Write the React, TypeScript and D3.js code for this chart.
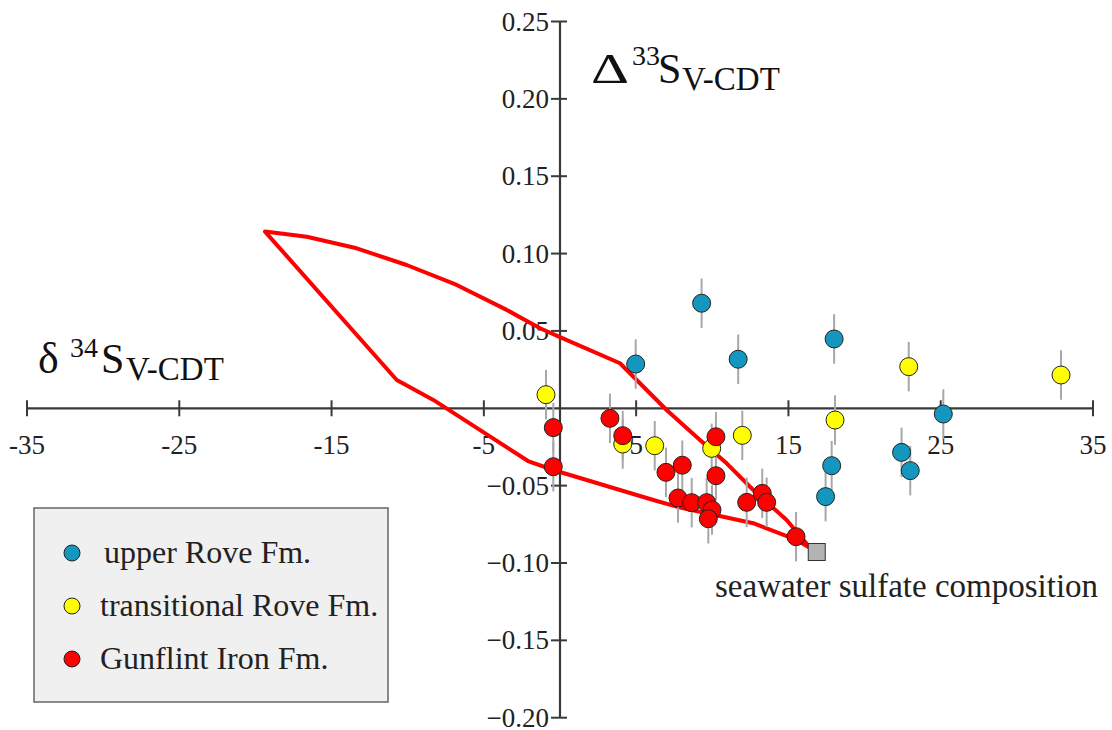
import React from "react";
import * as d3 from "d3";

// δ34S (‰) and Δ33S (‰) values for each formation
const upperRoveX = [4.97, 9.3, 11.7, 18.0, 25.17, 22.43, 23.0, 17.84, 17.44];
const upperRoveY = [0.0286, 0.0679, 0.0317, 0.0448, -0.0037, -0.0285, -0.0403, -0.0371, -0.0571];

const transRoveX = [-0.92, 4.12, 6.22, 9.96, 11.97, 18.06, 22.9, 32.9];
const transRoveY = [0.0088, -0.0231, -0.0242, -0.0259, -0.0175, -0.0076, 0.0269, 0.0215];

const gunflintX = [-0.44, -0.44, 3.28, 4.12, 6.96, 8.03, 7.75, 8.65, 9.63, 9.98, 9.74, 10.24, 10.24, 12.26, 13.28, 13.57, 15.5];
const gunflintY = [-0.0125, -0.0378, -0.0065, -0.0177, -0.0414, -0.0368, -0.058, -0.061, -0.061, -0.0657, -0.0714, -0.0436, -0.0184, -0.0608, -0.055, -0.0608, -0.083];

// analytical uncertainty on Δ33S (±)
const errD33 = 0.016;

// seawater sulfate end-member
const seawaterX = 16.86;
const seawaterY = -0.0929;

// model field boundaries, from the apex to the seawater end-member
const upperEdgeX = [-19.37, -16.63, -13.35, -10.07, -6.78, -3.5, -1.31, 0, 3.94, 7.0, 9.19, 10.94, 12.69, 14.88, 16.45];
const upperEdgeY = [0.1142, 0.1109, 0.1034, 0.0926, 0.0797, 0.0636, 0.0517, 0.046, 0.0291, -0.0011, -0.0205, -0.0356, -0.0528, -0.0722, -0.0905];
const lowerEdgeX = [-19.37, -10.72, -8.32, -2.1, -0.44, 6.13, 7.66, 12.69, 15.54, 16.45];
const lowerEdgeY = [0.1142, 0.0183, 0.0054, -0.0341, -0.0399, -0.0593, -0.0636, -0.0743, -0.0851, -0.0905];

const xTicks = [-35, -25, -15, -5, 5, 15, 25, 35];
const yTicks = [0.25, 0.2, 0.15, 0.1, 0.05, -0.05, -0.1, -0.15, -0.2];

const seriesNames = ["upper Rove Fm.", "transitional Rove Fm.", "Gunflint Iron Fm."];
const seriesColors = ["#1497bf", "#ffff00", "#ff0000"];

const W = 1112;
const H = 730;
const FONT = "'Liberation Serif', 'Times New Roman', serif";

export default function App() {
  const x = d3.scaleLinear().domain([-35, 35]).range([27, 1093]);
  const y = d3.scaleLinear().domain([-0.2, 0.25]).range([717.7, 21.5]);
  const x0 = x(0);
  const y0 = y(0);

  const series = [
    { xs: upperRoveX, ys: upperRoveY },
    { xs: transRoveX, ys: transRoveY },
    { xs: gunflintX, ys: gunflintY },
  ];

  const fieldPts: [number, number][] = [
    ...upperEdgeX.map((v, i) => [v, upperEdgeY[i]] as [number, number]),
    ...lowerEdgeX
      .map((v, i) => [v, lowerEdgeY[i]] as [number, number])
      .reverse(),
  ];
  const fieldPath = d3
    .line<[number, number]>()
    .x((d) => x(d[0]))
    .y((d) => y(d[1]))
    .curve(d3.curveLinearClosed)(fieldPts) as string;

  const fmt = d3.format(".2f");
  const axisColor = "#3a3a3a";

  return (
    <svg
      width={W}
      height={H}
      style={{ position: "absolute", left: 0, top: 0, background: "#fff" }}
      fontFamily={FONT}
    >
      {/* axes */}
      <line x1={x(-35)} x2={x(35)} y1={y0} y2={y0} stroke={axisColor} strokeWidth={2.2} />
      <line x1={x0} x2={x0} y1={y(0.25)} y2={y(-0.2)} stroke={axisColor} strokeWidth={2.2} />
      {xTicks.map((t) => (
        <g key={"xt" + t}>
          <line x1={x(t)} x2={x(t)} y1={y0 - 8} y2={y0 + 8} stroke={axisColor} strokeWidth={2} />
          <text x={x(t)} y={y0 + 46} textAnchor="middle" fontSize={27} fill="#222">
            {t}
          </text>
        </g>
      ))}
      {yTicks.map((t) => (
        <g key={"yt" + t}>
          <line x1={x0 - 9} x2={x0 + 7} y1={y(t)} y2={y(t)} stroke={axisColor} strokeWidth={2} />
          <text x={x0 - 11} y={y(t) + 9} textAnchor="end" fontSize={27} fill="#222">
            {fmt(t)}
          </text>
        </g>
      ))}

      {/* axis titles */}
      <g fill="#111">
        <text x={591} y={83} fontSize={42} textLength={38} lengthAdjust="spacingAndGlyphs">Δ</text>
        <text x={632} y={65} fontSize={28}>33</text>
        <text x={658} y={83} fontSize={42}>S</text>
        <text x={682} y={90} fontSize={33}>V-CDT</text>
      </g>
      <g fill="#111">
        <text x={38} y={373} fontSize={44}>δ</text>
        <text x={70} y={357} fontSize={28}>34</text>
        <text x={101} y={373} fontSize={42}>S</text>
        <text x={126} y={380} fontSize={33}>V-CDT</text>
      </g>

      {/* model field */}
      <path d={fieldPath} fill="none" stroke="#ff0000" strokeWidth={4} strokeLinejoin="round" />

      {/* error bars */}
      {series.map((s, si) =>
        s.xs.map((v, i) => (
          <line
            key={`e${si}-${i}`}
            x1={x(v)}
            x2={x(v)}
            y1={y(s.ys[i] + errD33)}
            y2={y(s.ys[i] - errD33)}
            stroke="#a8a8a8"
            strokeWidth={2}
          />
        ))
      )}

      {/* data points */}
      {series.map((s, si) =>
        s.xs.map((v, i) => (
          <circle
            key={`p${si}-${i}`}
            cx={x(v)}
            cy={y(s.ys[i])}
            r={9}
            fill={seriesColors[si]}
            stroke="#222"
            strokeWidth={1}
          />
        ))
      )}

      {/* seawater sulfate */}
      <rect
        x={x(seawaterX) - 8.5}
        y={y(seawaterY) - 8.5}
        width={17}
        height={17}
        fill="#b3b3b3"
        stroke="#333"
        strokeWidth={1}
      />
      <text x={715} y={597} fontSize={33} fill="#222">
        seawater sulfate composition
      </text>

      {/* legend */}
      <rect x={34} y={508} width={354} height={194} fill="#f0f0f0" stroke="#666" strokeWidth={1.5} />
      {seriesNames.map((n, i) => (
        <g key={n}>
          <circle cx={72} cy={553 + i * 53} r={8} fill={seriesColors[i]} stroke="#222" strokeWidth={1} />
          <text x={i === 0 ? 104 : 100} y={553 + i * 53 + 10} fontSize={32} fill="#222">
            {n}
          </text>
        </g>
      ))}
    </svg>
  );
}
